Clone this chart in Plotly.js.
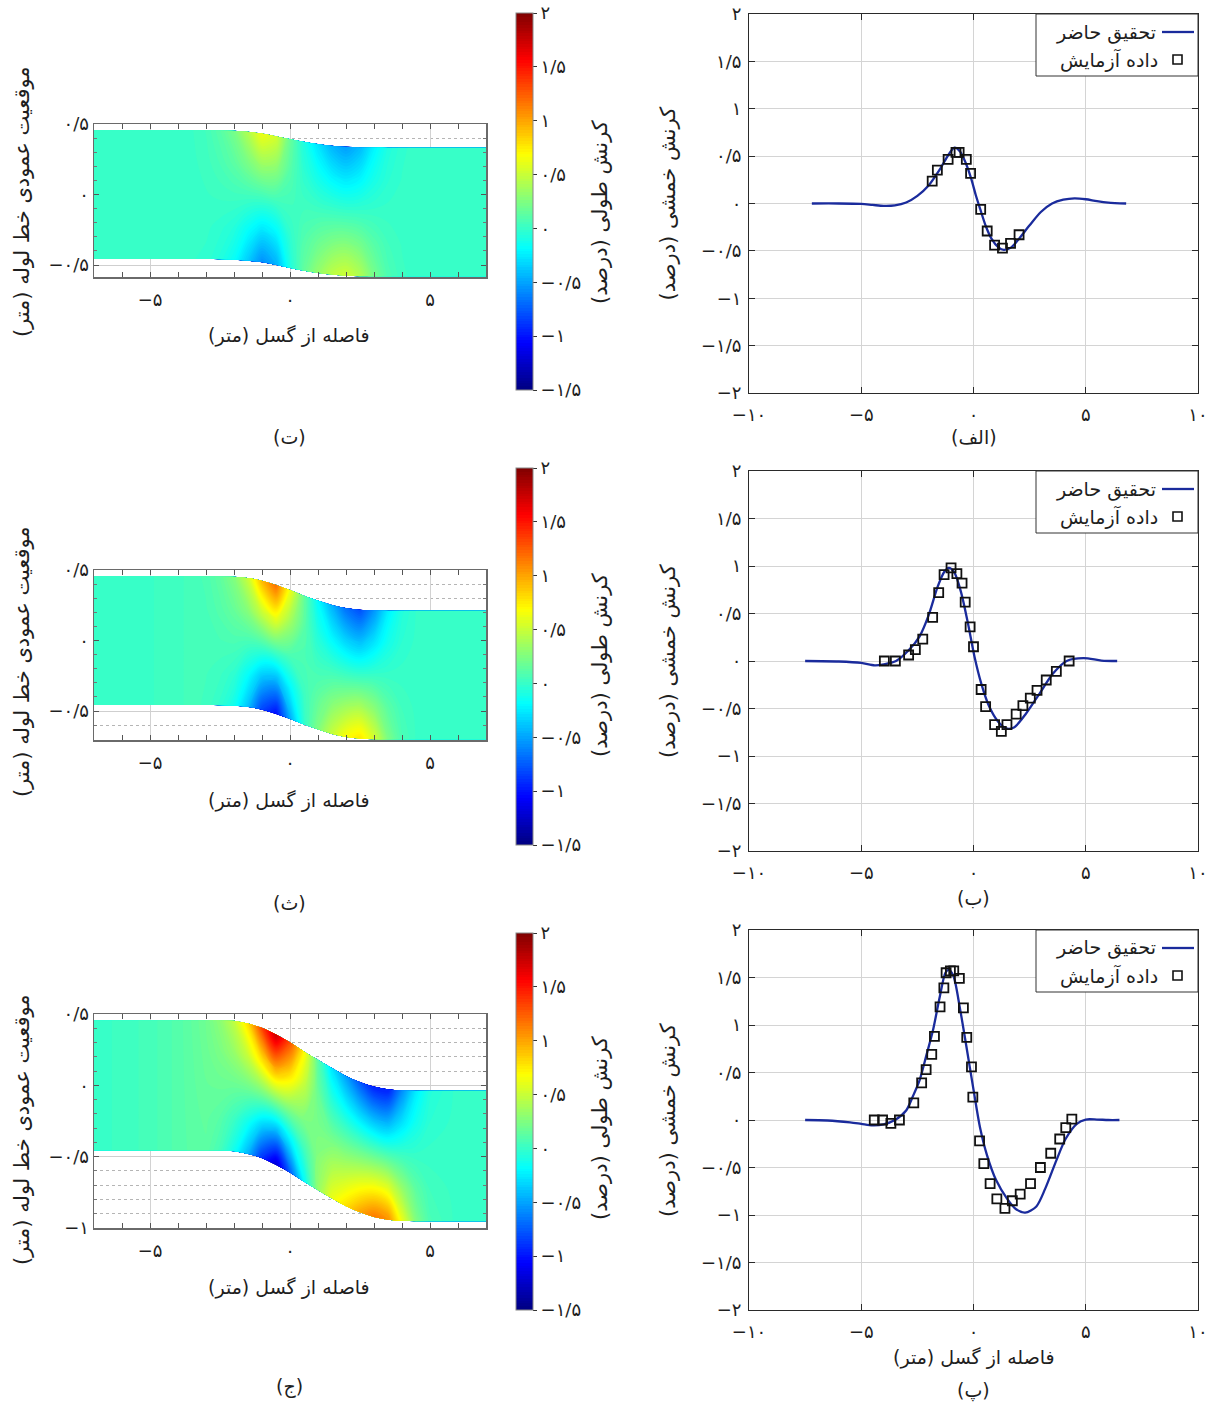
<!DOCTYPE html>
<html><head><meta charset="utf-8">
<script src="https://cdn.plot.ly/plotly-3.0.1.min.js"></script>
<style>html,body{margin:0;padding:0;background:#fff}#chart{width:1208px;height:1405px}</style>
</head><body><div id="chart"></div>
<script>
// ================= DATA =================
// Bending strain (%) along distance from fault (m) — right column
const curveAlefX = [-7.2,-6,-5,-4.5,-4,-3.5,-3,-2.5,-2,-1.5,-1.1,-0.85,-0.6,-0.35,-0.1,0.1,0.3,0.55,0.8,1.1,1.35,1.7,2.0,2.5,3.0,3.5,4.0,4.5,5.0,5.5,6.0,6.8];
const curveAlefY = [0,0,-0.005,-0.015,-0.025,-0.02,0.01,0.08,0.19,0.36,0.52,0.59,0.55,0.43,0.26,0.09,-0.06,-0.24,-0.37,-0.46,-0.49,-0.46,-0.38,-0.23,-0.09,0,0.04,0.055,0.045,0.025,0.01,0];
const expAlefX = [-1.84,-1.61,-1.13,-0.78,-0.64,-0.32,-0.13,0.32,0.61,0.94,1.29,1.65,2.03];
const expAlefY = [0.236,0.352,0.465,0.54,0.54,0.465,0.317,-0.063,-0.29,-0.44,-0.47,-0.42,-0.33];

const curveBeX = [-7.5,-6,-5,-4.4,-4,-3.45,-2.9,-2.4,-2,-1.6,-1.3,-1.1,-0.85,-0.55,-0.25,0.05,0.35,0.7,1.1,1.45,1.8,2.35,2.95,3.55,4.15,4.9,5.7,6.4];
const curveBeY = [0,-0.005,-0.02,-0.045,-0.035,0,0.11,0.26,0.48,0.78,0.94,0.98,0.93,0.72,0.40,0.04,-0.24,-0.48,-0.64,-0.71,-0.70,-0.55,-0.34,-0.13,0,0.03,0.005,0];
const expBeX = [-3.97,-3.48,-2.89,-2.59,-2.26,-1.82,-1.55,-1.31,-1.0,-0.74,-0.51,-0.37,-0.15,0.0,0.34,0.54,0.94,1.24,1.49,1.9,2.2,2.53,2.83,3.24,3.69,4.26];
const expBeY = [0,0,0.063,0.12,0.23,0.46,0.72,0.91,0.98,0.92,0.82,0.62,0.36,0.15,-0.30,-0.48,-0.67,-0.74,-0.67,-0.56,-0.47,-0.39,-0.31,-0.2,-0.11,0];

const curvePeX = [-7.5,-6.5,-5.5,-5,-4.5,-4,-3.5,-3,-2.7,-2.4,-2.1,-1.8,-1.5,-1.25,-1.1,-0.9,-0.6,-0.3,0,0.3,0.6,1,1.5,1.9,2.3,2.8,3.2,3.7,4.1,4.6,5,5.5,6,6.5];
const curvePeY = [0,-0.005,-0.025,-0.04,-0.055,-0.045,0,0.1,0.25,0.42,0.68,0.95,1.30,1.55,1.58,1.52,1.17,0.75,0.32,-0.09,-0.37,-0.63,-0.83,-0.94,-0.975,-0.91,-0.72,-0.42,-0.2,-0.04,0.005,0.005,0,0];
const expPeX = [-4.42,-4.05,-3.68,-3.30,-2.66,-2.31,-2.11,-1.86,-1.74,-1.49,-1.32,-1.22,-1.03,-0.88,-0.63,-0.45,-0.30,-0.09,-0.03,0.27,0.46,0.74,1.04,1.40,1.73,2.08,2.54,2.98,3.44,3.84,4.11,4.38];
const expPeY = [0,0,-0.035,0,0.18,0.39,0.53,0.69,0.88,1.19,1.39,1.55,1.57,1.57,1.49,1.18,0.87,0.56,0.24,-0.22,-0.46,-0.67,-0.83,-0.93,-0.85,-0.78,-0.67,-0.50,-0.35,-0.20,-0.08,0.01];

// Longitudinal strain fields in the deformed pipe — left column
const pipeX = [-7,-6,-5,-4,-3.5,-3,-2.5,-2,-1.5,-1,-0.5,0,0.5,1,1.5,2,2.5,3,3.5,4,4.5,5,6,7];
const fibre = [-1,-0.5,0,0.5,1];      // relative position across the section (bottom → top)
const pipeRadius = 0.457;             // m

const centreTe = [0,0,0,0,0,0,-0.002,-0.005,-0.012,-0.024,-0.043,-0.064,-0.083,-0.099,-0.111,-0.119,-0.123,-0.124,-0.125,-0.125,-0.125,-0.125,-0.125,-0.125];
const bendTe   = [0,0,0,0,0.01,0.03,0.09,0.19,0.39,0.6,0.5,0.13,-0.12,-0.3,-0.45,-0.52,-0.42,-0.22,-0.08,-0.02,0,0,0,0];
const axialTe  = [0,0,0,0,0,0.01,0.02,0.03,0.03,0.03,0.04,0.04,0.03,0.02,0.01,0,0,0,0,0,0,0,0,0];

const centreSe = [0,0,0,0,0,0,-0.002,-0.005,-0.014,-0.033,-0.064,-0.099,-0.139,-0.174,-0.205,-0.226,-0.238,-0.243,-0.245,-0.245,-0.245,-0.245,-0.245,-0.245];
const bendSe   = [0,0,0,0,0,0.02,0.08,0.19,0.45,0.88,1.1,0.56,0.09,-0.22,-0.47,-0.68,-0.78,-0.55,-0.24,-0.07,-0.01,0,0,0];
const axialSe  = [0,0,0.01,0.03,0.05,0.05,0.06,0.07,0.05,0.05,0.08,0.08,0.07,0.03,0.02,0,-0.01,0,0,0,0,0,0,0];

const centreJim = [0,0,0,0,0,0,0,-0.005,-0.024,-0.054,-0.101,-0.155,-0.219,-0.278,-0.336,-0.391,-0.433,-0.466,-0.485,-0.492,-0.495,-0.495,-0.495,-0.495];
const bendJim   = [0,0,0,0,0.01,0.03,0.12,0.3,0.62,1.12,1.48,1.02,0.45,-0.1,-0.45,-0.66,-0.88,-1.05,-1.02,-0.6,-0.25,-0.07,0,0];
const axialJim  = [0,0.02,0.05,0.1,0.13,0.16,0.17,0.17,0.18,0.22,0.27,0.28,0.26,0.22,0.17,0.14,0.12,0.1,0.06,0.02,0,0,0,0];

// Tick labels (Persian digits)
const lineXTickVals = [-10,-5,0,5,10];
const lineXTickText = ['−۱۰','−۵','۰','۵','۱۰'];
const lineYTickVals = [-2,-1.5,-1,-0.5,0,0.5,1,1.5,2];
const lineYTickText = ['−۲','−۱/۵','−۱','−۰/۵','۰','۰/۵','۱','۱/۵','۲'];
const mapXTickVals = [-5,0,5];
const mapXTickText = ['−۵','۰','۵'];
const mapYTickVals = [-1,-0.5,0,0.5];
const mapYTickText = ['−۱','−۰/۵','۰','۰/۵'];
const cbTickVals = [-1.5,-1,-0.5,0,0.5,1,1.5,2];
const cbTickText = ['−۱/۵','−۱','−۰/۵','۰','۰/۵','۱','۱/۵','۲'];

// Texts
const RLM = '\u200F';
const txtBendAxis = 'کرنش خمشی (درصد)' + RLM;
const txtLongAxis = 'کرنش طولی (درصد)' + RLM;
const txtDist = 'فاصله از گسل (متر)' + RLM;
const txtVert = 'موقعیت عمودی خط لوله (متر)' + RLM;
const txtModel = 'تحقیق حاضر';
const txtExp = 'داده آزمایش';
const panelLabels = ['(الف)','(ب)','(پ)','(ت)','(ث)','(ج)'];

// ================= LAYOUT HELPERS =================
const W = 1208, H = 1405;
const fx = p => p / W, fy = p => 1 - p / H;
const FONT = 'DejaVu Sans, sans-serif';
const BLUE = '#1a2b9c';
const jet = [[0,'#00007f'],[0.125,'#0000ff'],[0.375,'#00ffff'],[0.625,'#ffff00'],[0.875,'#ff0000'],[1,'#7f0000']];

const lineBoxX = [749, 1198];
const lineBoxY = [[14,393],[471,851],[930,1310]];
const mapBoxX = [94, 486];
const mapBoxY = [[124,277],[570,740],[1014,1228]];
const mapYRange = [[-0.585,0.5],[-0.705,0.5],[-1.0,0.5]];
const cbX = 516;
const cbBoxY = [[13,390],[468,845],[933,1310]];

const tickFont = {family: FONT, size: 18, color: '#1e1e1e'};

function lineXAxis(anchor){
  return {domain:[fx(lineBoxX[0]),fx(lineBoxX[1])], anchor, range:[-10,10], tickmode:'array',
    tickvals:lineXTickVals, ticktext:lineXTickText, showgrid:true, gridcolor:'#d4d4d4', gridwidth:1,
    zeroline:false, showline:true, linecolor:'#2a2a2a', linewidth:1, mirror:'ticks', ticks:'inside',
    ticklen:6, tickcolor:'#2a2a2a', tickfont:tickFont, ticklabelstandoff:5, fixedrange:true};
}
function lineYAxis(anchor, box){
  return {domain:[fy(box[1]),fy(box[0])], anchor, range:[-2,2], tickmode:'array',
    tickvals:lineYTickVals, ticktext:lineYTickText, showgrid:true, gridcolor:'#d4d4d4', gridwidth:1,
    zeroline:false, showline:true, linecolor:'#2a2a2a', linewidth:1, mirror:'ticks', ticks:'inside',
    ticklen:6, tickcolor:'#2a2a2a', tickfont:tickFont, ticklabelstandoff:3, fixedrange:true};
}
function mapXAxis(anchor){
  return {domain:[fx(mapBoxX[0]),fx(mapBoxX[1])], anchor, range:[-7,7], tickmode:'array',
    tickvals:mapXTickVals, ticktext:mapXTickText, showgrid:true, gridcolor:'#d2d2d2', gridwidth:1,
    zeroline:false, showline:true, linecolor:'#6a6a6a', linewidth:1.5, mirror:'ticks', ticks:'inside',
    ticklen:5, tickcolor:'#555', tickfont:tickFont, ticklabelstandoff:6, fixedrange:true,
    minor:{tickmode:'linear', tick0:0, dtick:1, ticks:'inside', ticklen:5, tickcolor:'#555', showgrid:false}};
}
function mapYAxis(anchor, box, range){
  return {domain:[fy(box[1]),fy(box[0])], anchor, range, tickmode:'array',
    tickvals:mapYTickVals, ticktext:mapYTickText, showgrid:true, gridcolor:'#cfcfcf', gridwidth:1,
    zeroline:false, showline:true, linecolor:'#6a6a6a', linewidth:1.5, mirror:'ticks', ticks:'inside',
    ticklen:5, tickcolor:'#555', tickfont:tickFont, fixedrange:true,
    minor:{tickmode:'linear', tick0:0, dtick:0.1, ticks:'inside', ticklen:3, tickcolor:'#777',
      showgrid:true, gridcolor:'#b5b5b5', griddash:'dot', gridwidth:1}};
}

// ================= TRACES =================
const data = [];
const curves = [[curveAlefX,curveAlefY,expAlefX,expAlefY],[curveBeX,curveBeY,expBeX,expBeY],[curvePeX,curvePeY,expPeX,expPeY]];
curves.forEach((c,i)=>{
  const xa = i===0?'x':'x'+(i+1), ya = i===0?'y':'y'+(i+1);
  data.push({type:'scatter', mode:'lines', x:c[0], y:c[1], xaxis:xa, yaxis:ya, name:txtModel,
    line:{color:BLUE, width:2.3, shape:'spline', smoothing:0.8}, showlegend:false, hoverinfo:'skip'});
  data.push({type:'scatter', mode:'markers', x:c[2], y:c[3], xaxis:xa, yaxis:ya, name:txtExp,
    marker:{symbol:'square-open', size:9, color:'#111', line:{width:1.8, color:'#111'}}, showlegend:false, hoverinfo:'skip'});
});

const fields = [[centreTe,bendTe,axialTe],[centreSe,bendSe,axialSe],[centreJim,bendJim,axialJim]];
const hiddenCarpetAxis = {showgrid:false, showline:false, startline:false, endline:false,
  showticklabels:'none', smoothing:1, minorgridcount:0, tickmode:'array', tickvals:[]};
fields.forEach((f,k)=>{
  const xa = 'x'+(k+4), ya = 'y'+(k+4), id = 'pipe'+k;
  const cx = fibre.map(() => pipeX.slice());
  const cy = fibre.map(s => pipeX.map((_,i) => f[0][i] + s*pipeRadius));
  const cz = fibre.map(s => pipeX.map((_,i) => f[2][i] + s*f[1][i]));
  data.push({type:'carpet', carpet:id, a:pipeX, b:fibre, x:cx, y:cy, xaxis:xa, yaxis:ya,
    aaxis:hiddenCarpetAxis, baxis:hiddenCarpetAxis});
  const cb = cbBoxY[k];
  data.push({type:'contourcarpet', carpet:id, a:pipeX, b:fibre, z:cz, xaxis:xa, yaxis:ya,
    autocontour:false, contours:{start:-1.4873, end:1.99, size:0.025, coloring:'fill', showlines:false},
    line:{width:0}, colorscale:jet, zauto:false, zmin:-1.5, zmax:2, hoverinfo:'skip',
    colorbar:{x:fx(cbX), xanchor:'left', y:fy(cb[0]), yanchor:'top', len:cb[1]-cb[0], lenmode:'pixels',
      thickness:17, thicknessmode:'pixels', xpad:0, ypad:0, outlinewidth:1, outlinecolor:'#888',
      tickmode:'array', tickvals:cbTickVals, ticktext:cbTickText, ticks:'outside', ticklen:4,
      tickcolor:'#333', tickfont:tickFont}});
});

// ================= LAYOUT =================
const layout = {width:W, height:H, autosize:false, margin:{l:0,r:0,t:0,b:0,pad:0},
  paper_bgcolor:'#fff', plot_bgcolor:'#fff', showlegend:false, hovermode:false,
  font:{family:FONT, color:'#222'}, annotations:[], shapes:[]};

layout.xaxis = lineXAxis('y');  layout.yaxis = lineYAxis('x', lineBoxY[0]);
layout.xaxis2 = lineXAxis('y2'); layout.yaxis2 = lineYAxis('x2', lineBoxY[1]);
layout.xaxis3 = lineXAxis('y3'); layout.yaxis3 = lineYAxis('x3', lineBoxY[2]);
layout.xaxis4 = mapXAxis('y4'); layout.yaxis4 = mapYAxis('x4', mapBoxY[0], mapYRange[0]);
layout.xaxis5 = mapXAxis('y5'); layout.yaxis5 = mapYAxis('x5', mapBoxY[1], mapYRange[1]);
layout.xaxis6 = mapXAxis('y6'); layout.yaxis6 = mapYAxis('x6', mapBoxY[2], mapYRange[2]);

function ann(text, px, py, size, angle, xanchor){
  layout.annotations.push({text, x:fx(px), y:fy(py), xref:'paper', yref:'paper', showarrow:false,
    textangle:angle||0, xanchor:xanchor||'center', yanchor:'middle', font:{family:FONT, size, color:'#1e1e1e'}});
}

// right column labels + legends
const lineCenterX = (lineBoxX[0]+lineBoxX[1])/2;
lineBoxY.forEach((b,i)=>{
  ann(txtBendAxis, 668, (b[0]+b[1])/2, 21, -90);
  const top = b[0];
  layout.shapes.push({type:'rect', xref:'paper', yref:'paper', x0:fx(1036), x1:fx(lineBoxX[1]), y0:fy(top), y1:fy(top+62),
    line:{color:'#333', width:1}, fillcolor:'#fff', layer:'above'});
  layout.shapes.push({type:'line', xref:'paper', yref:'paper', x0:fx(1162), x1:fx(1194), y0:fy(top+18), y1:fy(top+18),
    line:{color:BLUE, width:2.3}, layer:'above'});
  layout.shapes.push({type:'rect', xref:'paper', yref:'paper', x0:fx(1173), x1:fx(1182), y0:fy(top+41), y1:fy(top+50),
    line:{color:'#111', width:1.6}, layer:'above'});
  ann(txtModel, 1158, top+18, 19, 0, 'right');
  ann(txtExp, 1160, top+46, 19, 0, 'right');
});
ann(panelLabels[0], lineCenterX, 437, 19);
ann(panelLabels[1], lineCenterX, 898, 19);
ann(txtDist, lineCenterX, 1357, 19);
ann(panelLabels[2], lineCenterX, 1390, 19);

// left column labels
const mapCenterX = 289;
const vertCenters = [202, 662, 1130];
const cbTitleCenters = [212, 665, 1128];
const xTitleY = [336, 800, 1287];
const subY = [437, 903, 1386];
for(let k=0;k<3;k++){
  ann(txtVert, 22, vertCenters[k], 21, -90);
  ann(txtLongAxis, 600, cbTitleCenters[k], 21, -90);
  ann(txtDist, mapCenterX, xTitleY[k], 19);
  ann(panelLabels[3+k], mapCenterX, subY[k], 19);
}

Plotly.newPlot('chart', data, layout, {displayModeBar:false, staticPlot:true});
</script>
</body></html>
